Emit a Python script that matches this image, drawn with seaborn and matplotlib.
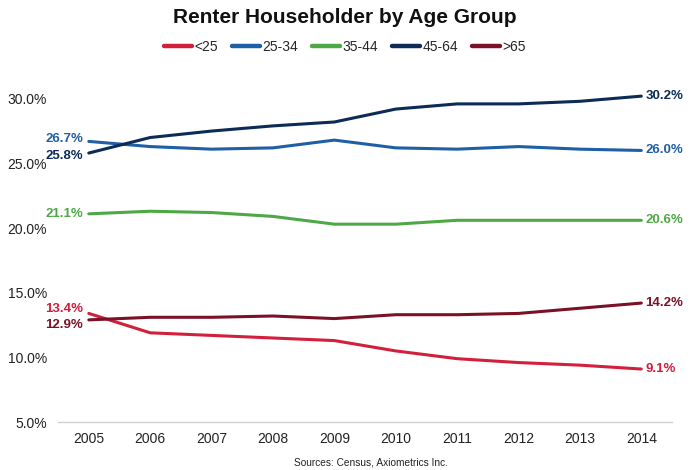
import matplotlib
matplotlib.use("Agg")
import matplotlib.pyplot as plt
import seaborn as sns
import pandas as pd

years = [2005, 2006, 2007, 2008, 2009, 2010, 2011, 2012, 2013, 2014]
under25 = [13.4, 11.9, 11.7, 11.5, 11.3, 10.5, 9.9, 9.6, 9.4, 9.1]
age25_34 = [26.7, 26.3, 26.1, 26.2, 26.8, 26.2, 26.1, 26.3, 26.1, 26.0]
age35_44 = [21.1, 21.3, 21.2, 20.9, 20.3, 20.3, 20.6, 20.6, 20.6, 20.6]
age45_64 = [25.8, 27.0, 27.5, 27.9, 28.2, 29.2, 29.6, 29.6, 29.8, 30.2]
over65 = [12.9, 13.1, 13.1, 13.2, 13.0, 13.3, 13.3, 13.4, 13.8, 14.2]
series_names = ["<25", "25-34", "35-44", "45-64", ">65"]
y_ticks = [5, 10, 15, 20, 25, 30]

colors = {"<25": "#d21f3c", "25-34": "#1f5fa5", "35-44": "#4ea846",
          "45-64": "#0c2b57", ">65": "#7b1126"}

rows = []
for name, vals in zip(series_names, [under25, age25_34, age35_44, age45_64, over65]):
    for i, (yr, v) in enumerate(zip(years, vals)):
        rows.append({"idx": i, "year": yr, "value": v, "group": name})
df = pd.DataFrame(rows)

sns.set_theme(style="white")
plt.rcParams["font.family"] = ["Liberation Sans", "DejaVu Sans"]

fig = plt.figure(figsize=(7, 4.7), dpi=100)
ax = fig.add_axes([0.083, 0.102, 0.877, 0.743])
sns.lineplot(data=df, x="idx", y="value", hue="group", hue_order=series_names,
             palette=colors, linewidth=2.2, ax=ax, legend=False)

ax.set_xlim(-0.5, len(years) - 0.5)
ax.set_ylim(5, 32)
ax.set_yticks(y_ticks)
ax.set_yticklabels([f"{t:.1f}%" for t in y_ticks], fontsize=10, color="#222222")
ax.set_xticks(range(len(years)))
ax.set_xticklabels([str(y) for y in years], fontsize=10, color="#222222")
ax.set_xticks([i - 0.5 for i in range(len(years) + 1)], minor=True)
ax.tick_params(axis="x", which="major", length=0, pad=7)
ax.tick_params(axis="x", which="minor", length=5, color="#cccccc", width=1, direction="out")
ax.tick_params(axis="y", length=0, pad=8)
ax.set_xlabel("")
ax.set_ylabel("")
for s in ["top", "right", "left"]:
    ax.spines[s].set_visible(False)
ax.spines["bottom"].set_color("#d0d0d0")
ax.spines["bottom"].set_linewidth(1)

# start labels
starts = {"<25": (under25[0], 3), "25-34": (age25_34[0], 2), "35-44": (age35_44[0], 0),
          "45-64": (age45_64[0], -2), ">65": (over65[0], -4)}
for name, (v, off) in starts.items():
    ax.annotate(f"{v:.1f}%", (0, v), xytext=(-4, off), textcoords="offset points",
                ha="right", va="center", fontsize=9.5, fontweight="bold", color=colors[name])
ends = {"<25": under25[-1], "25-34": age25_34[-1], "35-44": age35_44[-1],
        "45-64": age45_64[-1], ">65": over65[-1]}
for name, v in ends.items():
    ax.annotate(f"{v:.1f}%", (len(years) - 1, v), xytext=(3, 0), textcoords="offset points",
                ha="left", va="center", fontsize=9.5, fontweight="bold", color=colors[name])

fig.text(0.492, 0.963, "Renter Householder by Age Group", ha="center", va="center",
         fontsize=15, fontweight="bold", color="#111111")

handles = [plt.Line2D([0], [0], color=colors[n], lw=3.2) for n in series_names]
fig.legend(handles, series_names, loc="center", bbox_to_anchor=(0.493, 0.9), ncol=5,
           frameon=False, fontsize=10, handlelength=2.0, handletextpad=0.2,
           columnspacing=1.0)

fig.text(0.53, 0.005, "Sources: Census, Axiometrics Inc.", ha="center", va="bottom",
         fontsize=7.3, color="#222222")

fig.savefig("out.png", dpi=100, facecolor="white")
